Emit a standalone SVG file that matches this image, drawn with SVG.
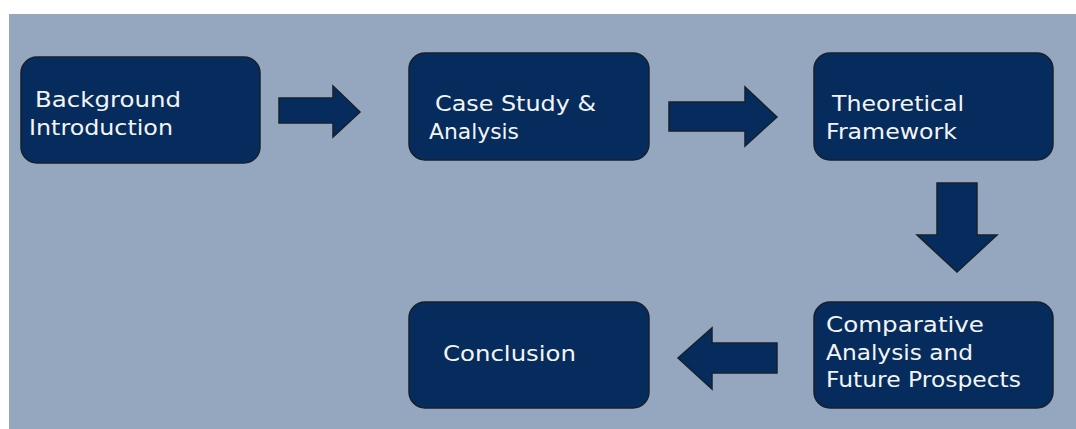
<svg xmlns="http://www.w3.org/2000/svg" width="1076" height="429" viewBox="0 0 1076 429">
<style>
.node{fill:#052c5c;stroke:#16202c;stroke-width:1.5}
.arr{fill:#052c5c;stroke:#16202c;stroke-width:1.5;stroke-linejoin:miter}
.t{font-family:"DejaVu Sans","Liberation Sans",sans-serif;font-size:22px;fill:#f4f4f4}
</style>
<rect x="0" y="0" width="1076" height="429" fill="#ffffff"/>
<rect x="9" y="14" width="1067" height="415" fill="#94a7bf"/>
<g id="connectors">
<polygon class="arr" points="279,98 333,98 333,86 360,112 333,137 333,123 279,123"/>
<polygon class="arr" points="669,102 745,102 745,87 777,117 745,146 745,131 669,131"/>
<polygon class="arr" points="937,183 977,183 977,235 997,235 957,272 917,235 937,235"/>
<polygon class="arr" points="777,343 712,343 712,328 678,358 712,389 712,373 777,373"/>
</g>
<g id="node-background">
<rect class="node" x="21" y="57" width="239" height="106" rx="16"/>
<text class="t" x="35" y="107" textLength="146" lengthAdjust="spacingAndGlyphs">Background</text>
<text class="t" x="29" y="135" textLength="144" lengthAdjust="spacingAndGlyphs">Introduction</text>
</g>
<g id="node-case-study">
<rect class="node" x="409" y="53" width="240" height="107" rx="16"/>
<text class="t" x="435" y="111" textLength="161" lengthAdjust="spacingAndGlyphs">Case Study &amp;</text>
<text class="t" x="429" y="139" textLength="90" lengthAdjust="spacingAndGlyphs">Analysis</text>
</g>
<g id="node-theoretical">
<rect class="node" x="814" y="53" width="239" height="107" rx="16"/>
<text class="t" x="832" y="111" textLength="132" lengthAdjust="spacingAndGlyphs">Theoretical</text>
<text class="t" x="826" y="139" textLength="131" lengthAdjust="spacingAndGlyphs">Framework</text>
</g>
<g id="node-comparative">
<rect class="node" x="814" y="302" width="239" height="106" rx="16"/>
<text class="t" x="826" y="332" textLength="158" lengthAdjust="spacingAndGlyphs">Comparative</text>
<text class="t" x="826" y="360" textLength="147" lengthAdjust="spacingAndGlyphs">Analysis and</text>
<text class="t" x="826" y="387" textLength="195" lengthAdjust="spacingAndGlyphs">Future Prospects</text>
</g>
<g id="node-conclusion">
<rect class="node" x="409" y="302" width="240" height="106" rx="16"/>
<text class="t" x="443" y="361" textLength="133" lengthAdjust="spacingAndGlyphs">Conclusion</text>
</g>
</svg>
